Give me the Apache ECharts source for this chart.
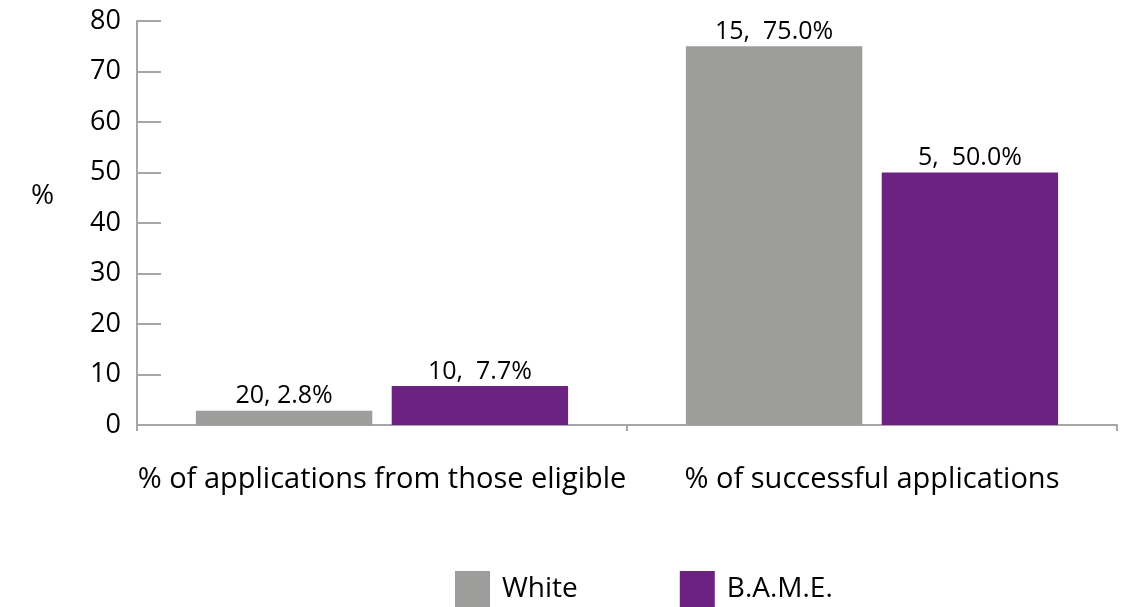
<!DOCTYPE html>
<html>
<head>
<meta charset="utf-8">
<script src="https://cdn.jsdelivr.net/npm/echarts@6/dist/echarts.min.js"></script>
<style>
  html, body { margin: 0; padding: 0; background: #fff; }
  #chart { width: 1145px; height: 607px; }
</style>
</head>
<body>
<div id="chart"></div>
<script>
// Application rates by ethnic group
const categories = ['% of applications from those eligible', '% of successful applications'];
const seriesNames = ['White', 'B.A.M.E.'];
const whitePct = [2.8, 75.0];
const bamePct = [7.7, 50.0];
const whiteCounts = [20, 15];
const bameCounts = [10, 5];
const whiteLabels = ['20, 2.8%', '15,  75.0%'];
const bameLabels = ['10,  7.7%', '5,  50.0%'];
const yTicks = [0, 10, 20, 30, 40, 50, 60, 70, 80];

const FONT = '"Open Sans", "Noto Sans", sans-serif';
const AXIS_COLOR = '#a6a6a6';

const chart = echarts.init(document.getElementById('chart'), null, { renderer: 'canvas' });

function makeSeries(name, values, labels, color) {
  return {
    name: name,
    type: 'bar',
    barWidth: '36%',
    barGap: '11%',
    itemStyle: { color: color },
    label: {
      show: true,
      position: 'top',
      distance: 2,
      color: '#000',
      fontFamily: FONT,
      fontSize: 25,
      formatter: p => labels[p.dataIndex]
    },
    data: values
  };
}

chart.setOption({
  animation: false,
  textStyle: { fontFamily: FONT },
  grid: { left: 137, right: 28, top: 21, bottom: 182, containLabel: false },
  legend: {
    data: seriesNames,
    top: 571,
    left: 455,
    padding: 0,
    itemWidth: 35,
    itemHeight: 36,
    itemGap: 102,
    icon: 'rect',
    textStyle: { color: '#000', fontSize: 28, fontFamily: FONT, padding: [0, 0, 0, 7] }
  },
  xAxis: {
    type: 'category',
    data: categories,
    axisLine: { lineStyle: { color: AXIS_COLOR, width: 2 } },
    axisTick: { show: true, length: 6, lineStyle: { color: AXIS_COLOR, width: 2 } },
    axisLabel: { interval: 0, color: '#000', fontSize: 29, fontFamily: FONT, margin: 40 }
  },
  yAxis: {
    type: 'value',
    min: yTicks[0],
    max: yTicks[yTicks.length - 1],
    interval: 10,
    splitLine: { show: false },
    axisLine: { show: true, lineStyle: { color: AXIS_COLOR, width: 2 } },
    axisTick: { show: true, inside: true, length: 24, lineStyle: { color: AXIS_COLOR, width: 2 } },
    axisLabel: { color: '#000', fontSize: 27, fontFamily: FONT, margin: 16 }
  },
  graphic: [{
    type: 'text',
    x: 31,
    y: 196,
    style: { text: '%', fill: '#000', font: '28px ' + FONT, textAlign: 'left', textVerticalAlign: 'middle' }
  }],
  series: [
    makeSeries(seriesNames[0], whitePct, whiteLabels, '#9d9d9c'),
    makeSeries(seriesNames[1], bamePct, bameLabels, '#6b2281')
  ]
});
</script>
</body>
</html>
